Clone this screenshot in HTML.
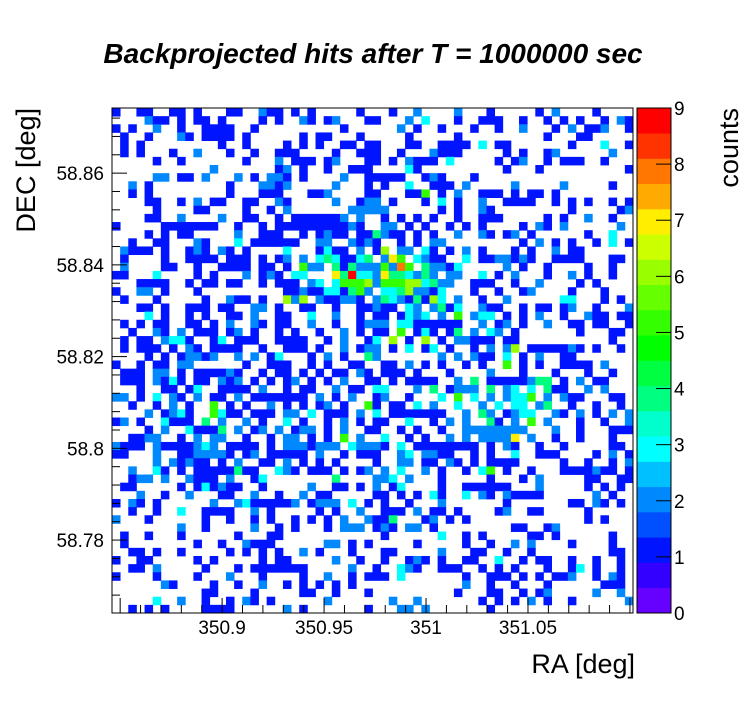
<!DOCTYPE html>
<html><head><meta charset="utf-8"><style>
body{margin:0;background:#fff;width:746px;height:722px;overflow:hidden}
svg text{font-family:"Liberation Sans",Arial,sans-serif}
</style></head><body>
<svg id="c" width="746" height="722" xmlns="http://www.w3.org/2000/svg"></svg>
<script>
const leftHalf=[
"1..11..11.1...11..211.1.1.....1.",
"....211.1.11.1....1.1..21.12...1",
"1.1..2..1..1111..1..........1...",
".1..1...21.1111.1......1.11...1.",
".1.1.........1..1....1.1.1..11.1",
".1.1...1..2...1..1..111....1..11",
".....1..1.......1...2.111.12...1",
"............2.......12.1..1..111",
".....22.11.2...2.1.221.1....2..1",
"..2.1.........1...2212.....2...1",
"..1.1.........1...111...112....1",
"....11..1.2.11..11..21.....2..12",
".....1....11....1..1.2.......222",
"....11..2....2..11..1.1111112.2.",
"1.....1111111..1..1.11111111121.",
"....1.1.11.....2..111..1.1211.11",
"..1..11...21...3.111111..22..212",
".2111.1..121.21.1....3...1311.2.",
".1....1..1111.111.1.12.2.3431134",
".2....11..1..1111.11.1.522.41422",
"11...3....1.1...2.121.33...74933",
"...1111..1.11.11..1.111.23.35556",
"1..22.1...1..........11211331452",
".1...1.....1..211.1..626.211221.",
"...11.1..111.11..22.1..11..1..11",
"....3.1..1.1..11.2..11..3..2..1.",
".1.1.11..11.1.2..21.11..2..1..12",
"..1..21.2.111.12.1..1.1..1..2.1.",
".1.11.2331..13.111..1111..1.2..1",
".1.111.1.21.1111..1..111.1..2.12",
"....1.1.12212..2.2.13...1.2.1..4",
"1..1.11.22......1..111..1.1..11.",
".111.22.1.111121..1.11.1.1.11.21",
".111.2131.11.212.1.1.12.1.1.2..1",
"...1..11.13..1111.2..1.11..2.11.",
"22.1.3.21.2.11.2.1111111.2.1.2..",
"..1..1.2.1..5.1.1..2.1.1.12.1..5",
"....2.1231..5311.111.22.3.111.2.",
"12.1..3111.4.2..2.1..3.1..1.2.1.",
"....1.2..31114.2.12.2.122.1.2..1",
"..1122..1.2.22..1..1.22.1.1.5.2.",
"2111.21111232.1111.1.2221222.322",
"11...2..1122221.12.11111.2..1.11",
".....2.21211.1.2..11.2.1.1.1....",
"..2..31.1.11111411..321.111.1.12",
"..122.2..2111.2..13........4....",
".11.....1.131211..1.....2..11.1.",
"...2..1..2...11..2..1..2.11.....",
"1.21.1......2..23111112.1222.3.1",
"..1..1..3..1111..2.1.....1.1..2.",
"2...1......1..1..1.1..1.1.1.2..2",
"........2..1.....2..1.1...1.222.",
".1..1...1......1...11...........",
".1........1..1..2111......22.1.1",
"..11.1..1.....1.1.1.1..2.1...1..",
"1..11.....1.1.....1.11.....2..1.",
"..11.2.....1...1.1111111.....2..",
"1....1....1...2...1....1..2..1.1",
"......21....1..1..2..1.1.1.1.1..",
"...........11....1.....11..1...1",
".....3..2..1..1.21.1......2.....",
"..1.1.1....1111......2.1.......1"
];
const rightHalf=[
"..1..2....2...1.....1.2....1....",
"1...2.3...1..111..1..1.1.1..1.21",
"...2.1..1...1..1..2...1.2.112..1",
"....1.....1..........1...11.....",
"1...11..1111.3.11.......1...3..1",
"1..1...2111.....1.1..12......2..",
"1.1.2111.3.....1.12..1.111..1...",
"....31..........1...1..........1",
"1111..121...1...................",
".1..3..111.2.....2.....2.....1..",
"1...115.1.2..111.1.11.1.........",
"2.1...1.3.1..2..1111..1.1.1..1.1",
"22......1.1..21.........1.....12",
".1.1.1.1..1..111.....1.1..2..1..",
".22.1.1..1.1.1....1.21.2......2.",
"4211.1.1..2..21.12.1......1..3..",
"1..1.1.22.........1.2.1.1..1.3.1",
"16.22.31.1.2.1...1.1..2.11.....",
".275.3211..3.1122121..1111...11",
"25285.42213.....2.1..1....1..1..2",
"27443242.22..3.1.2...1..2.1..1.",
"2555663422..111..1..2....1.1....",
".33462213...1..1..12....1...1..",
"243214163.2..1..2......33...1.1.",
"211.32.2413..211..1.11.12..1...2",
"11.1323.2.5.233.1.1.2..1..211.11",
"22.33111111..2.12.1..2..11.11..1",
"11.5.131.14.2.32.1.......1...11.",
"3.6.1.6.1.22111.11...........1..",
"2.1.3.13.1..1.2.26.1111121.1..1.",
"2.......2.2.211.3.1.2..11.......",
".11.2.1.1..1.1..5.1.1..1111.2...",
".111.1...1....2...1...1...1..1..",
"1.1.1111..2.4.11111244.1.2.11...",
"33...2.4.1222.4.23.3.411..2.2...",
"12..1...3.5.3.2.2335.2.211...11.",
"1.11.3.2..3..2.3.33.24..1..1..1.",
"3.1111111..2.42.1233..21.2.1.2.2",
"11..3..1.2.2..41.2.5.2...1..1..2",
"1..1.1..1..22222222...2..1...111",
".3..1.1..2.2.22227.2..1..1...1..",
"21.3.11111111.1.21..1..1.....11.",
"1..23.2211..1.1..3..111....1.2.1",
"1..22.11.21.1.1111.....1..1..1.2",
".2.3..2.1..1.35.1..1...1111211.1",
"223.2...1.....1...1.2.....11..11",
"2.13....1..111111...2.....1.1.1.",
"11.1.1.31..3.21.21111......2.1..",
".1..1...2.......1.......11.21.1.",
".111.2.11.1....12..11.....1.....",
"114...12.1.1..............1.1...",
"121.22.1.........11..12.........",
".1......3..1.1.....11.1......1..",
".....1.....1..1..2.2....1....1..",
".11.....2...11..1..1.........11.",
".1..121.1..11..3..1.11..1..1..1.",
"1..321..111..1.1.1...1..13.1..1.",
"11.3.......1..111.1.1.112..1.21.",
"...........2..1..1...1......111.",
"..........1...11..1.12.....2..2.",
"..2..2.......1.1.1.2.1..1......2",
"...22.2.......1................."
];
const xTicks=[350.9,350.95,351,351.05];
const xTickLabels=["350.9","350.95","351","351.05"];
const yTicks=[58.78,58.8,58.82,58.84,58.86];
const yTickLabels=["58.78","58.8","58.82","58.84","58.86"];
const zTicks=[0,1,2,3,4,5,6,7,8,9];
const palette=["#6600ff","#3300ff","#0014ff","#0050ff","#0088ff","#00c0ff","#00ffff","#00ffcc","#00ff80","#00ff40","#00ff00","#33ff00","#66ff00","#99ff00","#ccff00","#ffee00","#ffaa00","#ff7700","#ff3300","#ff0000"];

const NS="http://www.w3.org/2000/svg",svg=document.getElementById('c');
const PX0=112,PX1=633,PY0=108,PY1=613;
const XMIN=350.846,XMAX=351.1015,YMIN=58.7641,YMAX=58.8742,ZMAX=9;
const NC=64,NR=62;
const sx=v=>PX0+(v-XMIN)/(XMAX-XMIN)*(PX1-PX0);
const sy=v=>PY1-(v-YMIN)/(YMAX-YMIN)*(PY1-PY0);
function mk(t,a,p){const e=document.createElementNS(NS,t);for(const k in a)e.setAttribute(k,a[k]);(p||svg).appendChild(e);return e;}
function col(v){let b=Math.floor(v/(ZMAX/20));if(b>19)b=19;if(b<0)b=0;return palette[b];}
const fix=s=>(s+".".repeat(32)).slice(0,32);
const cw=(PX1-PX0)/NC,ch=(PY1-PY0)/NR;
const g=mk('g',{});


for(let r=0;r<NR;r++){
  const row=fix(leftHalf[r]||"")+fix(rightHalf[r]||"");
  for(let c=0;c<NC;c++){
    const ch0=row[c];if(ch0==='.')continue;
    const v=+ch0;if(!v)continue;
    const e=mk('rect',{x:(PX0+c*cw).toFixed(2),y:(PY0+r*ch).toFixed(2),width:(cw+0.4).toFixed(2),height:(ch+0.4).toFixed(2),fill:col(v)},g);
    
    
  }
}
const fr=mk('rect',{x:PX0,y:PY0,width:PX1-PX0,height:PY1-PY0,fill:'none',stroke:'#000','stroke-width':1});


for(let k=0;k<=30;k++){const v=350.85+k*0.01;const x=sx(v);if(x<PX0||x>PX1)continue;
  const major=k%5===0;
  mk('line',{x1:x,x2:x,y1:PY1,y2:PY1-(major?15:8),stroke:'#000'});}
xTicks.forEach((v,i)=>{const t=mk('text',{x:sx(v),y:634,'text-anchor':'middle','font-size':19});t.textContent=xTickLabels[i];
  
  });
for(let k=0;k<=40;k++){const v=58.76+k*0.004;const y=sy(v);if(y<PY0||y>PY1)continue;
  const major=k%5===0;mk('line',{x1:PX0,x2:PX0+(major?15:8),y1:y,y2:y,stroke:'#000'});}
yTicks.forEach((v,i)=>{const t=mk('text',{x:104,y:sy(v)+7,'text-anchor':'end','font-size':19});t.textContent=yTickLabels[i];
  
  });
const CX0=637,CX1=671;
const cb=mk('g',{});


for(let i=0;i<20;i++){const y0=PY1-(i+1)*(PY1-PY0)/20;mk('rect',{x:CX0,y:y0,width:CX1-CX0,height:(PY1-PY0)/20+0.3,fill:palette[i]},cb);}
mk('rect',{x:CX0,y:PY0,width:CX1-CX0,height:PY1-PY0,fill:'none',stroke:'#000'},cb);
zTicks.forEach(v=>{const y=PY1-v/ZMAX*(PY1-PY0);mk('line',{x1:CX1-15,x2:CX1,y1:y,y2:y,stroke:'#000'},cb);
  const t=mk('text',{x:674,y:y+7,'font-size':19},cb);t.textContent=v;
  
  });
</script>
<svg width="746" height="722" style="position:absolute;left:0;top:0" xmlns="http://www.w3.org/2000/svg">
<text x="373" y="63" text-anchor="middle" font-size="28" font-weight="bold" font-style="italic" font-family="Liberation Sans, sans-serif">Backprojected hits after T = 1000000 sec</text>
<text x="635" y="673" text-anchor="end" font-size="27" font-family="Liberation Sans, sans-serif">RA [deg]</text>
<text transform="translate(35,108) rotate(-90)" text-anchor="end" font-size="27" font-family="Liberation Sans, sans-serif">DEC [deg]</text>
<text transform="translate(738,108) rotate(-90)" text-anchor="end" font-size="27" font-family="Liberation Sans, sans-serif">counts</text>
</svg>
</body></html>
